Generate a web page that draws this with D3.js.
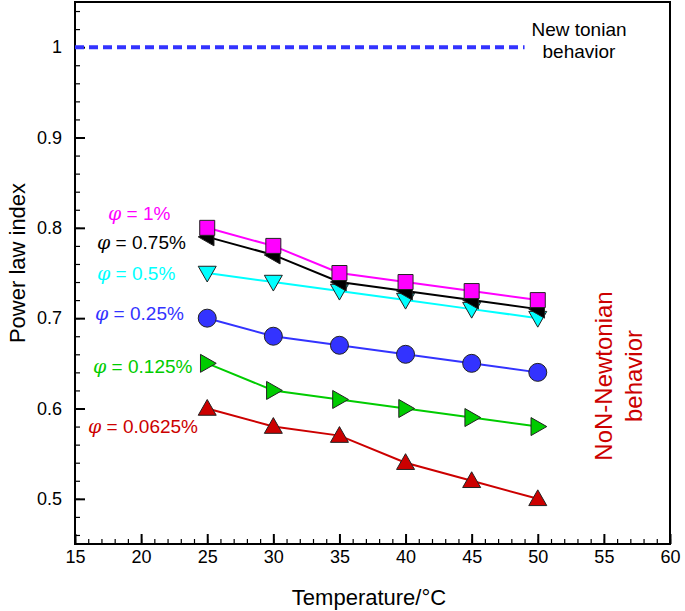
<!DOCTYPE html>
<html>
<head>
<meta charset="utf-8">
<script src="https://cdn.jsdelivr.net/npm/d3@7"></script>
<style>
  body { margin: 0; background: #fff; }
  text { font-family: "Liberation Sans", Arial, sans-serif; }
</style>
</head>
<body>
<div id="chart"></div>
<script>
// Data
const temps = [25, 30, 35, 40, 45, 50];
const phi1 = [0.80, 0.78, 0.75, 0.74, 0.73, 0.72];
const phi075 = [0.79, 0.77, 0.74, 0.73, 0.72, 0.71];
const phi05 = [0.75, 0.74, 0.73, 0.72, 0.71, 0.70];
const phi025 = [0.70, 0.68, 0.67, 0.66, 0.65, 0.64];
const phi0125 = [0.65, 0.62, 0.61, 0.60, 0.59, 0.58];
const phi00625 = [0.60, 0.58, 0.57, 0.54, 0.52, 0.50];
const seriesNames = ['1%', '0.75%', '0.5%', '0.25%', '0.125%', '0.0625%'];
const newtonianX = [15, 49];
const newtonianY = 1;
const xTicks = [15, 20, 25, 30, 35, 40, 45, 50, 55, 60];
const yTicks = [0.5, 0.6, 0.7, 0.8, 0.9, 1];

const W = 685, H = 611;
const margin = { top: 2, right: 15, bottom: 67, left: 75 };
const width = W - margin.left - margin.right;
const height = H - margin.top - margin.bottom;

const svg = d3.select('#chart').append('svg')
  .attr('width', W)
  .attr('height', H);

const chart = svg.append('g')
  .attr('transform', `translate(${margin.left}, ${margin.top})`);

const x = d3.scaleLinear().domain([15, 60]).range([0, width]);
const y = d3.scaleLinear().domain([0.45, 1.05]).range([height, 0]);

// Frame
chart.append('rect')
  .attr('width', width).attr('height', height)
  .attr('fill', 'none').attr('stroke', '#000').attr('stroke-width', 2);

// Axes with inward ticks
const xMinor = d3.range(15, 61, 1);
const yMinor = d3.range(0.46, 1.05, 0.02);
const tickFont = g => g.selectAll('text').attr('font-size', 18).attr('fill', '#000')
  .style('font-family', '"Liberation Sans", Arial, sans-serif');

chart.append('g')
  .attr('transform', `translate(0, ${height})`)
  .call(d3.axisBottom(x).tickValues(xMinor).tickSize(-5).tickFormat(''))
  .call(g => g.select('.domain').remove())
  .call(g => g.selectAll('line').attr('stroke-width', 1.2));

chart.append('g')
  .attr('transform', `translate(0, ${height})`)
  .call(d3.axisBottom(x).tickValues(xTicks).tickSize(-10).tickPadding(6).tickFormat(d3.format('d')))
  .call(g => g.select('.domain').remove())
  .call(g => g.selectAll('line').attr('stroke-width', 2))
  .call(tickFont);

chart.append('g')
  .call(d3.axisLeft(y).tickValues(yMinor).tickSize(-5).tickFormat(''))
  .call(g => g.select('.domain').remove())
  .call(g => g.selectAll('line').attr('stroke-width', 1.2));

chart.append('g')
  .call(d3.axisLeft(y).tickValues(yTicks).tickSize(-10).tickPadding(13).tickFormat(d => d === 1 ? '1' : d3.format('.1f')(d)))
  .call(g => g.select('.domain').remove())
  .call(g => g.selectAll('line').attr('stroke-width', 2))
  .call(tickFont);

// Axis labels
svg.append('text')
  .attr('x', 369)
  .attr('y', 605)
  .attr('text-anchor', 'middle')
  .attr('font-size', 22)
  .text('Temperature/°C');

svg.append('text')
  .attr('transform', 'translate(25, 263) rotate(-90)')
  .attr('text-anchor', 'middle')
  .attr('font-size', 22)
  .text('Power law index');

// Newtonian reference line
chart.append('line')
  .attr('x1', x(newtonianX[0])).attr('x2', x(newtonianX[1]))
  .attr('y1', y(newtonianY)).attr('y2', y(newtonianY))
  .attr('stroke', '#3333ff').attr('stroke-width', 4)
  .attr('stroke-dasharray', '9,5');

// Series
const series = [
  { name: seriesNames[0], values: phi1, color: '#ff00ff', marker: 'square' },
  { name: seriesNames[1], values: phi075, color: '#000000', marker: 'left' },
  { name: seriesNames[2], values: phi05, color: '#00ffff', marker: 'down' },
  { name: seriesNames[3], values: phi025, color: '#3333ff', marker: 'circle' },
  { name: seriesNames[4], values: phi0125, color: '#00cc00', marker: 'right' },
  { name: seriesNames[5], values: phi00625, color: '#cc0000', marker: 'up' }
];

const line = d3.line().x(d => x(d.t)).y(d => y(d.v));

function markerPath(type) {
  const s = 9;
  if (type === 'square') return `M-7.5,-7.5H7.5V7.5H-7.5Z`;
  if (type === 'up') return `M0,${-s}L${s},${s * 0.75}L${-s},${s * 0.75}Z`;
  if (type === 'down') return `M0,${s}L${s},${-s * 0.75}L${-s},${-s * 0.75}Z`;
  if (type === 'right') return `M${s},0L${-s * 0.75},${s}L${-s * 0.75},${-s}Z`;
  if (type === 'left') return `M${-s},0L${s * 0.75},${s}L${s * 0.75},${-s}Z`;
  return null;
}

// draw from bottom series to top so upper ones sit on top
series.slice().reverse().forEach(s => {
  const pts = temps.map((t, i) => ({ t, v: s.values[i] }));
  chart.append('path')
    .datum(pts)
    .attr('d', line)
    .attr('fill', 'none')
    .attr('stroke', s.color)
    .attr('stroke-width', 2);

  const g = chart.append('g');
  if (s.marker === 'circle') {
    g.selectAll('circle').data(pts).enter().append('circle')
      .attr('cx', d => x(d.t)).attr('cy', d => y(d.v)).attr('r', 9)
      .attr('fill', s.color).attr('stroke', '#222').attr('stroke-width', 1);
  } else {
    g.selectAll('path').data(pts).enter().append('path')
      .attr('transform', d => `translate(${x(d.t)}, ${y(d.v)})`)
      .attr('d', markerPath(s.marker))
      .attr('fill', s.color).attr('stroke', '#222').attr('stroke-width', 1);
  }
});

// Series labels
const labelPos = [
  { x: 108, y: 220 },
  { x: 97, y: 249 },
  { x: 97, y: 280 },
  { x: 95, y: 320 },
  { x: 93, y: 373 },
  { x: 88, y: 433 }
];
series.forEach((s, i) => {
  const t = svg.append('text')
    .attr('x', labelPos[i].x).attr('y', labelPos[i].y)
    .attr('font-size', 19)
    .attr('fill', s.color);
  t.append('tspan')
    .attr('font-style', 'italic')
    .style('font-family', '"DejaVu Serif", "Liberation Serif", serif')
    .text('φ');
  t.append('tspan').text(' = ' + s.name);
});

// Annotations
const nt = svg.append('text')
  .attr('x', 579).attr('y', 36)
  .attr('text-anchor', 'middle')
  .attr('font-size', 19);
nt.append('tspan').attr('x', 579).text('New tonian');
nt.append('tspan').attr('x', 579).attr('dy', 22).text('behavior');

const nn = svg.append('text')
  .attr('transform', 'translate(612, 376) rotate(-90)')
  .attr('text-anchor', 'middle')
  .attr('font-size', 24)
  .attr('fill', '#cc0000');
nn.append('tspan').attr('x', 0).text('NoN-Newtonian');
nn.append('tspan').attr('x', 0).attr('dy', 30).text('behavior');
</script>
</body>
</html>
